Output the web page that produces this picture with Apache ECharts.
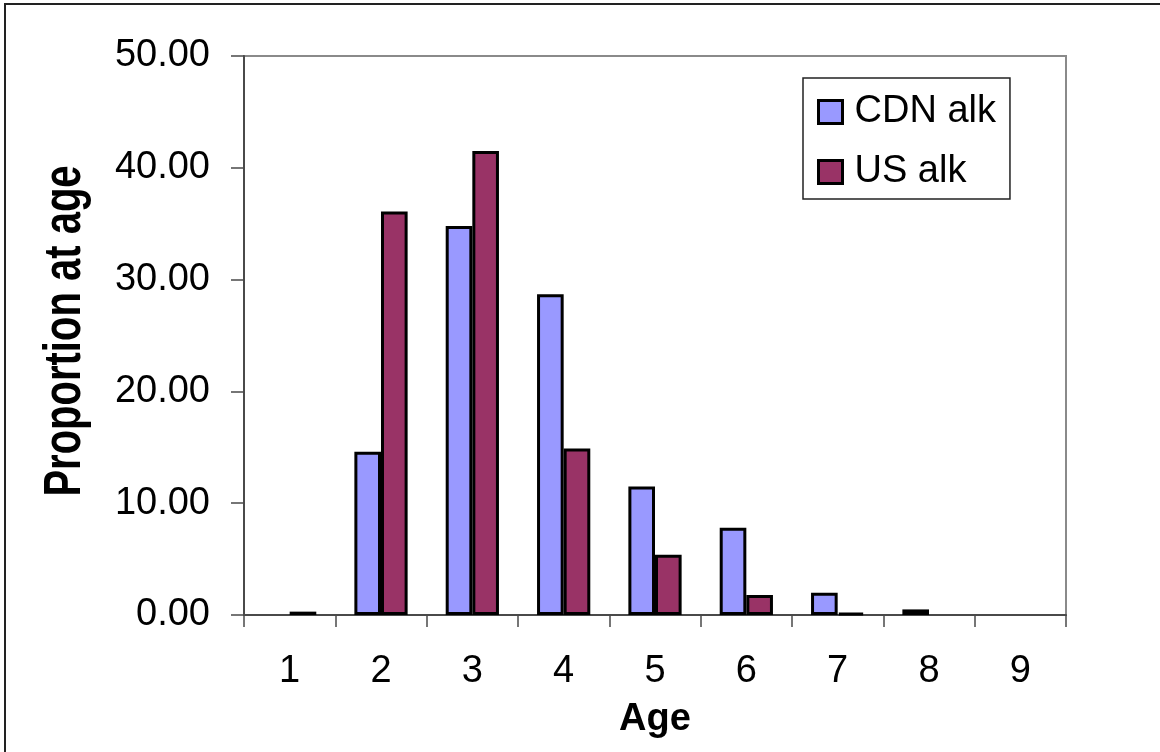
<!DOCTYPE html>
<html>
<head>
<meta charset="utf-8">
<style>
  html, body { margin: 0; padding: 0; background: #fff; }
  #chart { width: 1160px; height: 752px; }
</style>
<script src="https://cdn.jsdelivr.net/npm/echarts@6/dist/echarts.min.js"></script>
</head>
<body>
<div id="chart"></div>
<script>
// Age-composition data: proportion of fish at each age under two age-length keys
const ages = ['1', '2', '3', '4', '5', '6', '7', '8', '9'];
const cdnAlk = [0, 14.6, 34.8, 28.7, 11.5, 7.8, 2.0, 0.5, 0];
const usAlk = [0.3, 36.1, 41.5, 14.9, 5.4, 1.8, 0.2, 0, 0];
const yTicks = { min: 0, max: 50, interval: 10 };

const FONT = "'Liberation Sans', Arial, Helvetica, sans-serif";

// zero proportions leave an empty slot rather than a flat outline
const asBars = arr => arr.map(v => (v === 0 ? null : v));

const chart = echarts.init(document.getElementById('chart'), null, { renderer: 'canvas' });

chart.setOption({
  backgroundColor: '#ffffff',
  animation: false,
  textStyle: { fontFamily: FONT, color: '#000' },
  grid: {
    left: 244, right: 94, top: 56, bottom: 137,
    show: true, borderColor: '#8a8a8a', borderWidth: 2, backgroundColor: 'transparent'
  },
  legend: {
    orient: 'vertical',
    left: 803, top: 78,
    padding: [15, 14, 8, 14],
    itemGap: 22,
    itemWidth: 24, itemHeight: 23,
    icon: 'rect',
    borderColor: '#222', borderWidth: 1.5,
    itemStyle: { borderColor: '#000', borderWidth: 3 },
    textStyle: { fontSize: 38, fontFamily: FONT, color: '#000', padding: [0, 0, 0, 7] },
    data: ['CDN alk', 'US alk']
  },
  xAxis: {
    type: 'category',
    data: ages,
    name: 'Age',
    nameLocation: 'middle',
    nameGap: 86,
    nameTextStyle: { fontSize: 38, fontWeight: 'bold', fontFamily: FONT, color: '#000' },
    axisLine: { lineStyle: { color: '#4a4a4a', width: 2 } },
    axisTick: { show: true, length: 12, lineStyle: { color: '#4a4a4a', width: 1.5 } },
    axisLabel: { fontSize: 38, fontFamily: FONT, color: '#000', margin: 38 },
    splitLine: { show: false }
  },
  yAxis: {
    type: 'value',
    min: yTicks.min, max: yTicks.max, interval: yTicks.interval,
    axisLine: { show: true, lineStyle: { color: '#4a4a4a', width: 2 } },
    axisTick: { show: true, length: 13, lineStyle: { color: '#4a4a4a', width: 1.5 } },
    axisLabel: {
      fontSize: 38, fontFamily: FONT, color: '#000', margin: 34,
      formatter: v => v.toFixed(2)
    },
    splitLine: { show: false }
  },
  series: [
    {
      name: 'CDN alk', type: 'bar', data: asBars(cdnAlk),
      barGap: '0%', barCategoryGap: '41.7%',
      itemStyle: { color: '#9999FF', borderColor: '#000', borderWidth: 3, borderRadius: 0 }
    },
    {
      name: 'US alk', type: 'bar', data: asBars(usAlk),
      barGap: '0%', barCategoryGap: '41.7%',
      itemStyle: { color: '#993366', borderColor: '#000', borderWidth: 3, borderRadius: 0 }
    }
  ],
  graphic: [
    {
      type: 'rect', silent: true, z: -1,
      shape: { x: 5, y: 4, width: 1300, height: 900 },
      style: { fill: 'none', stroke: '#222', lineWidth: 2 }
    },
    {
      type: 'text', silent: true,
      x: 66, y: 331,
      rotation: Math.PI / 2,
      scaleY: 1.28,
      style: {
        text: 'Proportion at age',
        fontSize: 40, fontWeight: 'bold', fontFamily: FONT,
        fill: '#000', align: 'center', verticalAlign: 'middle'
      }
    }
  ]
});
</script>
</body>
</html>
